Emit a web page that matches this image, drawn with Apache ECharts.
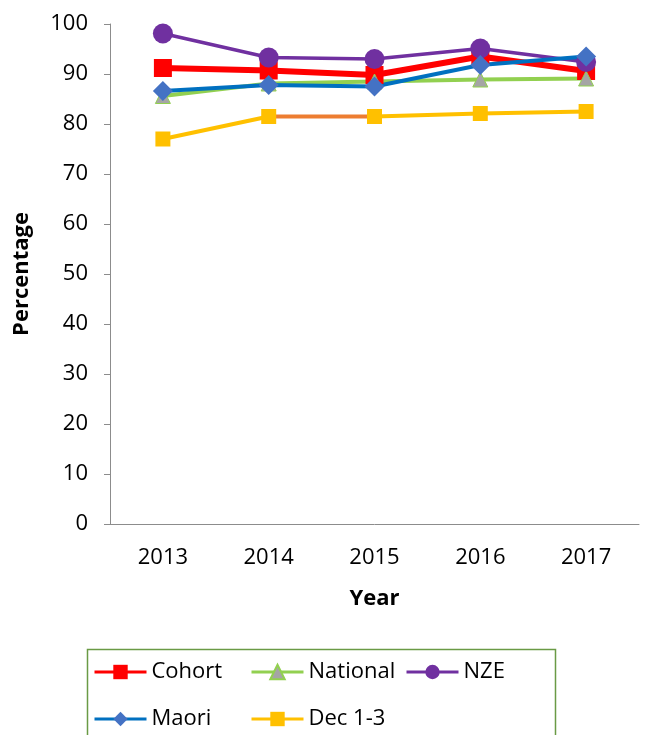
<!DOCTYPE html>
<html>
<head>
<meta charset="utf-8">
<script src="https://cdn.jsdelivr.net/npm/echarts@6/dist/echarts.min.js"></script>
<style>
  html, body { margin: 0; padding: 0; background: #fff; }
  #main { width: 650px; height: 735px; }
</style>
</head>
<body>
<div id="main"></div>
<script>
// data
var years = ['2013', '2014', '2015', '2016', '2017'];
var cohort = [91.2, 90.7, 89.8, 93.5, 90.6];
var national = [85.6, 88.1, 88.5, 88.9, 89.1];
var nze = [98.1, 93.3, 93.0, 95.1, 92.4];
var maori = [86.6, 87.8, 87.5, 91.8, 93.5];
var dec13 = [77.0, 81.5, 81.5, 82.1, 82.5];
var yTicks = [0, 10, 20, 30, 40, 50, 60, 70, 80, 90, 100];

var font = '"Open Sans", "Noto Sans", sans-serif';
var chart = echarts.init(document.getElementById('main'));

// Dec 1-3: the 2014-2015 segment is orange in the reference
var decLine = new echarts.graphic.LinearGradient(0, 0, 1, 0, [
  { offset: 0, color: '#FFC000' }, { offset: 0.25, color: '#FFC000' },
  { offset: 0.25, color: '#ED7D31' }, { offset: 0.5, color: '#ED7D31' },
  { offset: 0.5, color: '#FFC000' }, { offset: 1, color: '#FFC000' }
]);

function mkLegend(name, left, top, lineColor) {
  var item = { name: name, lineStyle: { width: 3 } };
  if (lineColor) item.lineStyle.color = lineColor;
  return {
    data: [item], left: left, top: top, padding: 0,
    itemWidth: 52, itemHeight: 18,
    textStyle: { fontFamily: font, fontSize: 22, color: '#000' }
  };
}

var option = {
  animation: false,
  backgroundColor: '#fff',
  grid: { left: 110, top: 24, right: 11, bottom: 211, outerBoundsMode: 'none', containLabel: false },
  graphic: [{
    type: 'rect', left: 85, top: 647,
    shape: { width: 468, height: 100 },
    style: { fill: 'none', stroke: '#6A9A45', lineWidth: 1.5 }
  }],
  legend: [
    mkLegend('Cohort', 93, 661),
    mkLegend('National', 250, 661),
    mkLegend('NZE', 405, 661),
    mkLegend('Maori', 93, 708),
    mkLegend('Dec 1-3', 250, 708, '#FFC000')
  ],
  xAxis: {
    type: 'category', data: years, boundaryGap: true,
    name: 'Year', nameLocation: 'middle', nameGap: 64,
    nameTextStyle: { fontFamily: font, fontSize: 22, fontWeight: 'bold', color: '#000' },
    axisLine: { lineStyle: { color: '#8C8C8C', width: 1 } },
    axisTick: { length: 6, lineStyle: { color: '#8C8C8C' } },
    axisLabel: { fontFamily: font, fontSize: 22, color: '#000', margin: 23 },
    splitLine: { show: false }
  },
  yAxis: {
    type: 'value', min: yTicks[0], max: yTicks[yTicks.length - 1], interval: 10,
    name: 'Percentage', nameLocation: 'middle', nameGap: 77, nameRotate: 90,
    nameTextStyle: { fontFamily: font, fontSize: 22, fontWeight: 'bold', color: '#000' },
    axisLine: { show: true, lineStyle: { color: '#8C8C8C', width: 1 } },
    axisTick: { show: true, length: 6, lineStyle: { color: '#8C8C8C' } },
    axisLabel: { fontFamily: font, fontSize: 22, color: '#000', margin: 22 },
    splitLine: { show: false }
  },
  series: [
    {
      name: 'Cohort', type: 'line', data: cohort,
      symbol: 'rect', symbolSize: 18,
      lineStyle: { color: '#FF0000', width: 6 },
      itemStyle: { color: '#FF0000' }
    },
    {
      name: 'National', type: 'line', data: national,
      symbol: 'triangle', symbolSize: 15,
      lineStyle: { color: '#92D050', width: 4 },
      itemStyle: { color: '#A5A5A5', borderColor: '#92D050', borderWidth: 1 }
    },
    {
      name: 'NZE', type: 'line', data: nze,
      symbol: 'circle', symbolSize: 20,
      lineStyle: { color: '#7030A0', width: 3.5 },
      itemStyle: { color: '#7030A0' }
    },
    {
      name: 'Maori', type: 'line', data: maori,
      symbol: 'diamond', symbolSize: 20,
      lineStyle: { color: '#0070C0', width: 4 },
      itemStyle: { color: '#4472C4' }
    },
    {
      name: 'Dec 1-3', type: 'line', data: dec13,
      symbol: 'rect', symbolSize: 15,
      lineStyle: { color: decLine, width: 4 },
      itemStyle: { color: '#FFC000' }
    }
  ]
};

chart.setOption(option);
</script>
</body>
</html>
